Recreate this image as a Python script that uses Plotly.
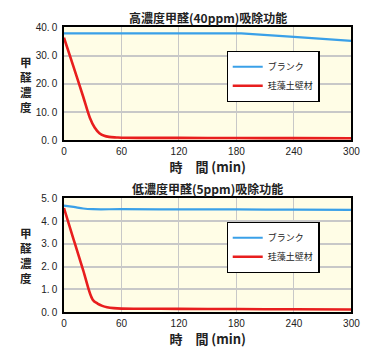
import plotly.graph_objects as go

# ---- data ----
t_blank_hi = [0, 60, 120, 185, 240, 300]
blank_hi = [37.8, 37.8, 37.8, 37.8, 36.6, 35.2]
t_wall_hi = [0, 10, 20, 27, 32, 37, 42, 47, 55, 60, 120, 180, 240, 300]
wall_hi = [36.3, 26.0, 15.5, 8.0, 4.5, 2.5, 1.6, 1.2, 1.0, 0.9, 0.85, 0.8, 0.75, 0.7]

t_blank_lo = [0, 10, 20, 30, 60, 120, 180, 240, 300]
blank_lo = [4.68, 4.62, 4.55, 4.52, 4.52, 4.51, 4.51, 4.5, 4.49]
t_wall_lo = [0, 10, 20, 30, 35, 40, 45, 52, 60, 120, 180, 240, 300]
wall_lo = [4.57, 3.2, 1.85, 0.55, 0.38, 0.28, 0.22, 0.18, 0.16, 0.15, 0.14, 0.13, 0.12]

x_ticks = [0, 60, 120, 180, 240, 300]
y_ticks_hi = [0, 10, 20, 30, 40]
y_ticks_lo = [0, 1, 2, 3, 4, 5]
y_ticktext_hi = ["0.\u20090", "10.\u20090", "20.\u20090", "30.\u20090", "40.\u20090"]
y_ticktext_lo = ["0.\u20090", "1.\u20090", "2.\u20090", "3.\u20090", "4.\u20090", "5.\u20090"]

titles = ["高濃度甲醛(40ppm)吸除功能", "低濃度甲醛(5ppm)吸除功能"]
names = ["ブランク", "珪藻土壁材"]

BLUE = "#3AA0E8"
RED = "#E81E1E"
FONT = "Noto Sans CJK JP"

fig = go.Figure()
fig.add_trace(go.Scatter(x=t_blank_hi, y=blank_hi, mode="lines", name=names[0],
                         line=dict(color=BLUE, width=2.2), xaxis="x", yaxis="y", legend="legend"))
fig.add_trace(go.Scatter(x=t_wall_hi, y=wall_hi, mode="lines", name=names[1], line_shape="spline",
                         line=dict(color=RED, width=2.6), xaxis="x", yaxis="y", legend="legend"))
fig.add_trace(go.Scatter(x=t_blank_lo, y=blank_lo, mode="lines", name=names[0], line_shape="spline",
                         line=dict(color=BLUE, width=2.2), xaxis="x2", yaxis="y2", legend="legend2"))
fig.add_trace(go.Scatter(x=t_wall_lo, y=wall_lo, mode="lines", name=names[1], line_shape="spline",
                         line=dict(color=RED, width=2.6), xaxis="x2", yaxis="y2", legend="legend2"))

W, H = 373, 354
x0, x1 = 63 / W, 360 / W

def xa(anchor):
    return dict(domain=[x0, x1], range=[0, 300], tickvals=x_ticks, anchor=anchor,
                showgrid=True, gridcolor="#C8C8C8", gridwidth=1,
                showline=True, linecolor="#000000", linewidth=1.5, mirror=True,
                ticks="", tickfont=dict(family="Liberation Sans", size=10, color="#222"),
                zeroline=False, fixedrange=True, ticklabelstandoff=1,
                title=dict(text="<b>時　間 (min)</b>", font=dict(family=FONT, size=13, color="#222"), standoff=3))

def ya(anchor, dom, rng, tv, tt):
    return dict(domain=dom, range=rng, tickvals=tv, ticktext=tt, anchor=anchor,
                showgrid=True, gridcolor="#C8C8C8", gridwidth=1.5,
                showline=True, linecolor="#000000", linewidth=1.5, mirror=True,
                ticks="", tickfont=dict(family="Liberation Sans", size=10, color="#222"),
                zeroline=False, fixedrange=True, ticklabelstandoff=3)

leg = dict(xanchor="center", yanchor="middle", bgcolor="white",
           bordercolor="#000", borderwidth=1.2, font=dict(family=FONT, size=9, color="#222"),
           tracegroupgap=0, itemwidth=30)

fig.update_layout(
    width=W, height=H, margin=dict(l=0, r=0, t=0, b=0),
    paper_bgcolor="white", plot_bgcolor="#FFFDE6",
    xaxis=xa("y"), yaxis=ya("x", [1 - 139 / H, 1 - 22 / H], [0, 40], y_ticks_hi, y_ticktext_hi),
    xaxis2=xa("y2"), yaxis2=ya("x2", [1 - 317 / H, 1 - 199 / H], [0, 5], y_ticks_lo, y_ticktext_lo),
    legend=dict(x=279 / W, y=1 - 73 / H, **leg),
    legend2=dict(x=279 / W, y=1 - 250 / H, **leg),
    showlegend=True,
)

for i, (title, ytop) in enumerate(zip(titles, [12, 189])):
    fig.add_annotation(x=(x0 + x1) / 2, y=1 - ytop / H, xref="paper", yref="paper",
                       text="<b>" + title + "</b>", showarrow=False, xanchor="center", yanchor="middle",
                       font=dict(family=FONT, size=12, color="#222"))
for ymid in [81, 258]:
    fig.add_annotation(x=24 / W, y=1 - ymid / H, xref="paper", yref="paper",
                       text="<b>甲<br>醛<br>濃<br>度</b>", showarrow=False, xanchor="center", yanchor="middle",
                       borderpad=0, font=dict(family=FONT, size=11.5, color="#222"))

fig.write_html("out.html")
